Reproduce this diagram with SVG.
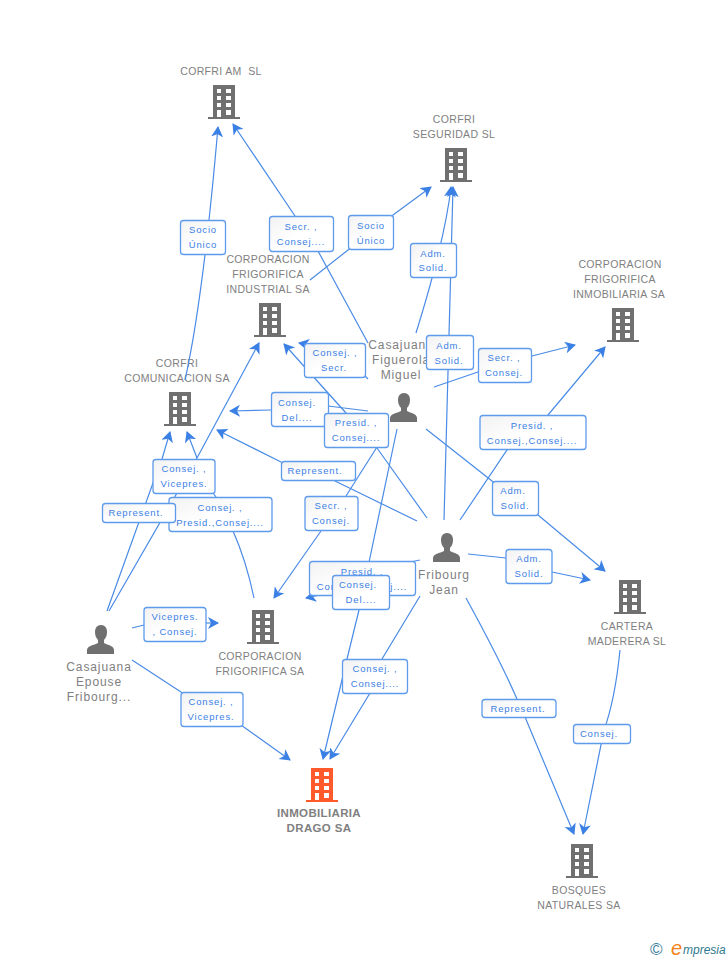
<svg xmlns="http://www.w3.org/2000/svg" width="728" height="960" viewBox="0 0 728 960">
<style>
text{font-family:"Liberation Sans",Arial,sans-serif}
.n{font-size:10.5px;fill:#808080;text-anchor:middle;letter-spacing:.35px;white-space:pre}
.p{font-size:12px;fill:#808080;text-anchor:middle;letter-spacing:.9px}
.b{font-size:11.5px;font-weight:bold;fill:#808080;text-anchor:middle;letter-spacing:.35px}
.l{font-size:9.5px;fill:#3b80e4;text-anchor:middle;letter-spacing:.85px}
.c path{fill:none;stroke:#4a8be6;stroke-width:1.2;marker-end:url(#a)}
.c path.t{marker-end:none}
.r{fill:url(#g);stroke:#5e9bec;stroke-width:1.3}
</style>
<defs>
<linearGradient id="g" x1="0" y1="0" x2="1" y2="1"><stop offset="0" stop-color="#f2f2f2"/><stop offset=".5" stop-color="#fff"/></linearGradient>
<marker id="a" markerUnits="userSpaceOnUse" markerWidth="14" markerHeight="14" refX="10" refY="6" orient="auto"><path d="M0 0L11 6L0 12L3 6Z" fill="#3b80e4"/></marker>
<symbol id="h" width="32" height="35" viewBox="0 0 32 35"><path fill-rule="evenodd" d="M5 0H27V32H32V34H0V32H5ZM9 4V8H13V4ZM18 4V8H23V4ZM9 11V15H13V11ZM18 11V15H23V11ZM9 18V22H13V18ZM18 18V22H23V18ZM9 25V32H13V25ZM18 25V30H23V25Z"/></symbol>
<symbol id="m" width="28" height="29" viewBox="0 0 28 29"><path d="M14 0C18 0 20 3 20 7C20 10 19 13 17 15V18C21 20 27 21 27 25V29H0V25C0 21 7 20 11 18V15C9 13 8 10 8 7C8 3 10 0 14 0Z"/></symbol>
</defs>
<rect width="728" height="960" fill="#fff"/>

<g id="n-corfri-am" fill="#707070"><text class="n" x="221" y="75">CORFRI AM  SL</text><use href="#h" x="208" y="85"/></g>
<g id="n-corfri-seguridad" fill="#707070"><text class="n" x="454" y="123">CORFRI</text><text class="n" x="454" y="138">SEGURIDAD SL</text><use href="#h" x="440" y="148"/></g>
<g id="n-frig-industrial" fill="#707070"><text class="n" x="268" y="263">CORPORACION</text><text class="n" x="268" y="278">FRIGORIFICA</text><text class="n" x="268" y="293">INDUSTRIAL SA</text><use href="#h" x="254" y="303"/></g>
<g id="n-frig-inmobiliaria" fill="#707070"><text class="n" x="620" y="268">CORPORACION</text><text class="n" x="620" y="283">FRIGORIFICA</text><text class="n" x="619" y="298">INMOBILIARIA SA</text><use href="#h" x="607" y="308"/></g>
<g id="n-corfri-comunicacion" fill="#707070"><text class="n" x="177" y="367">CORFRI</text><text class="n" x="177" y="382">COMUNICACION SA</text><use href="#h" x="164" y="392"/></g>
<g id="n-frig-sa" fill="#707070"><use href="#h" x="247" y="610"/><text class="n" x="260" y="660">CORPORACION</text><text class="n" x="260" y="675">FRIGORIFICA SA</text></g>
<g id="n-cartera" fill="#707070"><use href="#h" x="614" y="580"/><text class="n" x="627" y="630">CARTERA</text><text class="n" x="627" y="645">MADERERA SL</text></g>
<g id="n-drago" fill="#ff5a2c"><use href="#h" x="306" y="768"/><text class="b" x="319" y="817">INMOBILIARIA</text><text class="b" x="319" y="832">DRAGO SA</text></g>
<g id="n-bosques" fill="#707070"><use href="#h" x="566" y="844"/><text class="n" x="579" y="894">BOSQUES</text><text class="n" x="579" y="909">NATURALES SA</text></g>
<g id="n-figuerola" fill="#707070"><text class="p" x="401" y="349">Casajuana</text><text class="p" x="401" y="364">Figuerola</text><text class="p" x="401" y="379">Miguel</text><use href="#m" x="390" y="393"/></g>
<g id="n-fribourg" fill="#707070"><use href="#m" x="433" y="533"/><text class="p" x="444" y="579">Fribourg</text><text class="p" x="444" y="594">Jean</text></g>
<g id="n-epouse" fill="#707070"><use href="#m" x="87" y="625"/><text class="p" x="99" y="671">Casajuana</text><text class="p" x="99" y="686">Epouse</text><text class="p" x="99" y="701">Fribourg...</text></g>

<g id="connectors" class="c">
<path d="M185 380Q203 300 218 127"/>
<path d="M368 343L318 251L295 216L233 124"/>
<path d="M310 280L348 250L393 215L431 187"/>
<path d="M416 333Q445 240 451 187"/>
<path d="M444 520L453 187"/>
<path d="M434 387L478 372L532 356L575 345"/>
<path d="M460 520L507 450L548 415L605 347"/>
<path d="M426 429L492 481L538 515L605 571"/>
<path d="M468 554L506 558L552 572L590 580"/>
<path d="M466 598Q500 660 517 699L525 717L574 834"/>
<path d="M620 650Q615 700 604 730L583 834"/>
<path d="M420 596L382 659L370 693L330 759"/>
<path d="M397 429L368 567L359 610L347 659L323 759"/>
<path class="t" d="M410 562L420 560"/>
<path d="M325 594L306 598"/>
<path class="t" d="M377 447L346 496"/>
<path d="M321 531L274 598"/>
<path d="M427 518L377 448L346 413L284 344"/>
<path class="t" d="M328 406L368 411"/>
<path d="M271 410L230 411"/>
<path class="t" d="M364 375L368 379"/>
<path d="M304 344L299 343"/>
<path d="M417 521L333 480L281 462L217 430"/>
<path d="M107 611L153 483L162 459L170 432"/>
<path class="t" d="M254 598Q246 560 233 531"/>
<path d="M197 458L187 432"/>
<path class="t" d="M213 493L216 497"/>
<path d="M109 611L177 493L197 458L259 343"/>
<path class="t" d="M132 628L144 625"/>
<path d="M206 623L218 623"/>
<path d="M132 660L181 692L241 725L290 760"/>
</g>

<g id="labels">
<g><rect class="r" x="180.500" y="220.500" width="45" height="34" rx="3"/><text class="l" x="203" y="233">Socio</text><text class="l" x="203" y="248">Único</text></g>
<g><rect class="r" x="269.500" y="216.500" width="64" height="35" rx="3"/><text class="l" x="301" y="230">Secr. ,</text><text class="l" x="301" y="245">Consej....</text></g>
<g><rect class="r" x="348.500" y="215.500" width="45" height="34" rx="3"/><text class="l" x="371" y="229">Socio</text><text class="l" x="371" y="244">Único</text></g>
<g><rect class="r" x="410.500" y="243.500" width="46" height="34" rx="3"/><text class="l" x="433" y="257">Adm.</text><text class="l" x="433" y="271">Solid.</text></g>
<g><rect class="r" x="304.500" y="343.500" width="61" height="34" rx="3"/><text class="l" x="335" y="356">Consej. ,</text><text class="l" x="334" y="371">Secr.</text></g>
<g><rect class="r" x="426.500" y="335.500" width="47" height="34" rx="3"/><text class="l" x="449" y="349">Adm.</text><text class="l" x="449" y="364">Solid.</text></g>
<g><rect class="r" x="478.500" y="348.500" width="53" height="34" rx="3"/><text class="l" x="504" y="361">Secr. ,</text><text class="l" x="504" y="376">Consej.</text></g>
<g><rect class="r" x="271.500" y="392.500" width="57" height="34" rx="3"/><text class="l" x="297" y="406">Consej.</text><text class="l" x="297" y="421">Del....</text></g>
<g><rect class="r" x="324.500" y="413.500" width="64" height="34" rx="3"/><text class="l" x="356" y="426">Presid. ,</text><text class="l" x="356" y="441">Consej....</text></g>
<g><rect class="r" x="480" y="415.500" width="106" height="34" rx="3"/><text class="l" x="532" y="429">Presid. ,</text><text class="l" x="532" y="444">Consej.,Consej....</text></g>
<g><rect class="r" x="281.500" y="461.500" width="74" height="19" rx="3"/><text class="l" x="315" y="474">Represent.</text></g>
<g><rect class="r" x="169" y="497.500" width="103" height="34" rx="3"/><text class="l" x="220" y="511">Consej. ,</text><text class="l" x="220" y="526">Presid.,Consej....</text></g>
<g><rect class="r" x="153" y="459.500" width="62" height="34" rx="3"/><text class="l" x="184" y="472">Consej. ,</text><text class="l" x="184" y="487">Vicepres.</text></g>
<g><rect class="r" x="102.500" y="503.500" width="73" height="19" rx="3"/><text class="l" x="136" y="516">Represent.</text></g>
<g><rect class="r" x="492.500" y="481.500" width="46" height="34" rx="3"/><text class="l" x="513" y="494">Adm.</text><text class="l" x="515" y="509">Solid.</text></g>
<g><rect class="r" x="305" y="496.500" width="53" height="34" rx="3"/><text class="l" x="331" y="509">Secr. ,</text><text class="l" x="331" y="524">Consej.</text></g>
<g><rect class="r" x="309.500" y="561.500" width="106" height="34" rx="3"/><text class="l" x="362" y="575">Presid. ,</text><text class="l" x="362" y="590">Consej.,Consej....</text></g>
<g><rect class="r" x="332.500" y="575.500" width="57" height="34" rx="3"/><text class="l" x="358" y="588">Consej.</text><text class="l" x="361" y="603">Del....</text></g>
<g><rect class="r" x="506" y="549.500" width="46" height="34" rx="3"/><text class="l" x="529" y="562">Adm.</text><text class="l" x="529" y="577">Solid.</text></g>
<g><rect class="r" x="144" y="607.500" width="62" height="34" rx="3"/><text class="l" x="175" y="620">Vicepres.</text><text class="l" x="175" y="635">, Consej.</text></g>
<g><rect class="r" x="342.500" y="659.500" width="65" height="34" rx="3"/><text class="l" x="375" y="672">Consej. ,</text><text class="l" x="375" y="687">Consej....</text></g>
<g><rect class="r" x="181" y="692.500" width="62" height="34" rx="3"/><text class="l" x="211" y="705">Consej. ,</text><text class="l" x="211" y="720">Vicepres.</text></g>
<g><rect class="r" x="482" y="699.500" width="74" height="18" rx="3"/><text class="l" x="518" y="712">Represent.</text></g>
<g><rect class="r" x="573.500" y="724.500" width="57" height="19" rx="3"/><text class="l" x="599" y="737">Consej.</text></g>
</g>

<g id="logo"><text x="650" y="955" font-size="17" fill="#3d7f9b">©</text><text x="671" y="955" font-size="20" font-style="italic" fill="#f58220">e</text><text x="683" y="954" font-size="12" font-style="italic" fill="#2f7a8f">mpresia</text></g>
</svg>
